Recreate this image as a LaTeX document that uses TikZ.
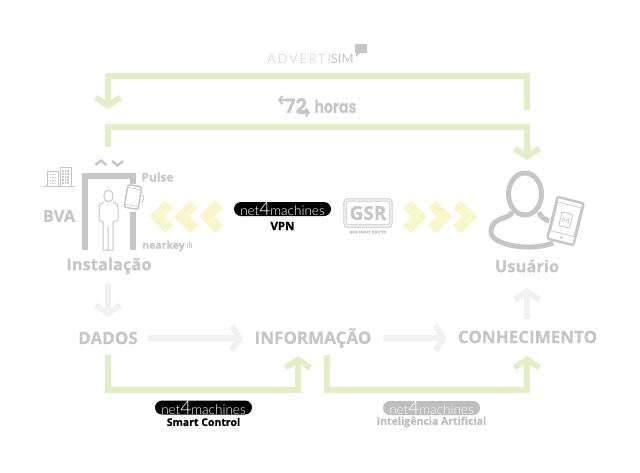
\documentclass[tikz,border=0pt]{standalone}
\usepackage{fontspec}
\setmainfont[BoldFeatures={FakeBold=0.5}]{Open Sans}
\newfontfamily\thinfont{Lato Light}
\newfontfamily\roundfont{Poppins}
\usetikzlibrary{arrows.meta}
\definecolor{softgreen}{HTML}{E4EEC6}
\definecolor{softyellow}{HTML}{F7F7CB}
\definecolor{softgray}{HTML}{F1F1F1}
\definecolor{midgray}{HTML}{C6C6C6}
\definecolor{pillgray}{HTML}{BDBDBD}
\tikzset{
	flow/.style={draw=softgreen,line width=6pt,miter limit=10,-{Straight Barb[length=8pt,width=25pt,line width=6pt]}},
	step arrow/.style={draw=softgray,line width=6pt,-{Straight Barb[length=8pt,width=25pt,line width=6pt]}},
	stage/.style={text=midgray,font=\fontsize{17}{17}\selectfont\bfseries,inner sep=0pt},
	place/.style={text=midgray,font=\fontsize{16.5}{16.5}\selectfont\bfseries,inner sep=0pt},
	small tag/.style={text=midgray,font=\fontsize{12}{12}\selectfont\bfseries,inner sep=0pt},
	pill/.style={rounded corners=7pt,minimum width=97pt,minimum height=14pt,inner sep=0pt,text=white,font=\thinfont\fontsize{13.5}{13.5}\selectfont},
	pill caption/.style={font=\fontsize{10.5}{10.5}\selectfont\bfseries,inner sep=0pt},
	icon/.style={draw=midgray,line width=1pt},
	chevron/.style={fill=softyellow},
	lift/.style={draw=midgray,line width=2.5pt}
}
\newcommand{\fourmachines}{net{\fontsize{19}{19}\selectfont 4}machines}
\begin{document}
\begin{tikzpicture}[x=1pt,y=-1pt]
	\useasboundingbox (0,0) rectangle (640,472);

	% arrows of the hours
	\draw[midgray,line width=2.2pt,-{Straight Barb[length=3pt,width=8pt,line width=2.2pt]}] (291,100) -- (278,100);
	\draw[midgray,line width=2.2pt,-{Straight Barb[length=3pt,width=8pt,line width=2.2pt]}] (298,112.5) -- (310,112.5);

	% labels
	\node (advertisim) at (310.5,59) [inner sep=0pt,text=midgray,font=\thinfont\fontsize{13}{13}\selectfont\addfontfeatures{LetterSpace=14}] {ADVERTI{\fontspec{Lato}SIM}};
	\node (seventytwo) at (296,106) [inner sep=0pt,text=midgray,font=\roundfont\bfseries\fontsize{20}{20}\selectfont] {72};
	\node (horas) at (335.5,106.5) [inner sep=0pt,text=midgray,font=\roundfont\bfseries\fontsize{18}{18}\selectfont] {\scalebox{.78}[1]{horas}};
	\node (bva) at (59,216) [place] {BVA};
	\node (pulse) at (157.5,177) [small tag] {Pulse};
	\node (nearkey) at (163.5,246) [small tag,font=\fontsize{10.5}{10.5}\selectfont\bfseries] {nearkey};
	\node (instalacao) at (109,266) [place] {Instalação};
	\node (usuario) at (527,266) [place] {Usuário};
	\node (dados) at (108,338) [stage] {DADOS};
	\node (informacao) at (313,338) [stage] {INFORMAÇÃO};
	\node (conhecimento) at (527.5,337) [stage] {CONHECIMENTO};

	% pills
	\node (vpn pill) at (282.5,209) [pill,fill=black] {\fourmachines};
	\node (vpn) at (282.5,226) [pill caption,font=\fontsize{11.5}{11.5}\selectfont\bfseries] {VPN};
	\node (control pill) at (203.5,407.5) [pill,fill=black] {\fourmachines};
	\node (control) at (203.5,422) [pill caption] {Smart Control};
	\node (ai pill) at (431.5,408) [pill,fill=pillgray] {\fourmachines};
	\node (ai) at (431.5,422) [pill caption,text=pillgray] {Inteligência Artificial};

	% router
	\node (gsr) at (368,213) [draw=midgray,line width=1pt,double=white,double distance=1.2pt,rounded corners=3pt,minimum width=46pt,minimum height=26pt,inner sep=0pt,text=midgray,font=\fontsize{19}{19}\selectfont\bfseries] {GSR};
	\node (gsr caption) at (368,232) [inner sep=0pt,text=midgray,font=\fontsize{3.6}{3.6}\selectfont\bfseries] {GSM SMART ROUTER};

	% green loops
	\coordinate (top start) at (527,110);
	\coordinate (top end) at (108,109);
	\coordinate (next start) at (108,147);
	\coordinate (next end) at (527,160);
	\coordinate (data out) at (108,355);
	\coordinate (control in) at (298,356);
	\coordinate (ai out) at (327,355);
	\coordinate (ai in) at (527,356);
	\draw[flow] (top start) -- (527,75.5) -- (108,75.5) -- (top end);
	\draw[flow] (next start) -- (108,126.5) -- (527,126.5) -- (next end);
	\draw[flow] (data out) -- (108,390) -- (298,390) -- (control in);
	\draw[flow] (ai out) -- (327,390) -- (527,390) -- (ai in);

	% grey steps
	\coordinate (down start) at (108,283);
	\coordinate (down end) at (108,317);
	\coordinate (up start) at (527,319);
	\coordinate (up end) at (527,288);
	\coordinate (first start) at (148,338);
	\coordinate (first end) at (243,338);
	\coordinate (second start) at (383,338);
	\coordinate (second end) at (447,338);
	\draw[step arrow] (down start) -- (down end);
	\draw[step arrow] (up start) -- (up end);
	\draw[step arrow] (first start) -- (first end);
	\draw[step arrow] (second start) -- (second end);

	% chevrons
	\foreach \t in {149,174,199}
		\fill[chevron] (\t,216.5) -- (\t+16,200) -- (\t+24,208) -- (\t+15,216.5) -- (\t+24,225) -- (\t+16,233) -- cycle;
	\foreach \t in {427,452,477}
		\fill[chevron] (\t,216.5) -- (\t-16,200) -- (\t-24,208) -- (\t-15,216.5) -- (\t-24,225) -- (\t-16,233) -- cycle;

	% speech bubble
	\fill[midgray] (355,44) -- (367,44) -- (367,53) -- (360,53) -- (356,57) -- (356.5,53) -- (355,53) -- cycle;

	% buildings
	\draw[icon] (43,186) -- (75,186);
	\draw[icon] (47.5,186) -- (47.5,171) -- (58,171) -- (58,186);
	\draw[icon] (60,186) -- (60,167.5) -- (71,167.5) -- (71,186);
	\foreach \x in {49.5,52,54.5}
		\foreach \y in {173.5,176.5,179.5,182.5}
			\fill[midgray] (\x,\y) rectangle +(1.6,1.8);
	\foreach \x in {62,64.5,67}
		\foreach \y in {170,173,176,179,182}
			\fill[midgray] (\x,\y) rectangle +(1.6,1.8);

	% lift
	\draw[lift] (95.5,165) -- (101,160.5) -- (106.5,165);
	\draw[lift] (112,161) -- (117.5,165.5) -- (123,161);
	\draw[midgray,line width=6pt] (85,250) -- (85,176) -- (132.5,176) -- (132.5,184);
	\draw[midgray,line width=6pt] (132.5,212) -- (132.5,250);

	% person in the lift
	\draw[icon] (108.5,196) ellipse (4.5 and 6);
	\draw[icon] (104,202.5) .. controls (100,203) and (99,205) .. (99,208) -- (99,220) -- (103,222) -- (103,250) -- (108,250) -- (108,226) -- (108,250) -- (113,250) -- (113,222) -- (118,220) -- (118,208) .. controls (118,205) and (117,203) .. (113,202.5);

	% phone of the lift
	\begin{scope}[shift={(133,197)},rotate=-10]
		\draw[icon,fill=white,line width=1.5pt,rounded corners=1.5pt] (-7,-11.5) rectangle (7,11.5);
		\draw[icon,line width=.6pt] (-7,-8.5) -- (7,-8.5) (-7,8.5) -- (7,8.5);
		\draw[icon] (9,-4) .. controls (11,-2) and (11,2) .. (9,4);
	\end{scope}

	% nearkey waves
	\draw[midgray,line width=.6pt] (187,244) -- (187,248) (189,241.5) -- (189,248) (191,243) -- (191,248);

	% user
	\draw[midgray,line width=5pt] (525,194) ellipse (16.5 and 21);
	\draw[midgray,line width=5pt] (512,212) .. controls (510,220) and (491,216) .. (491,232) .. controls (491,245) and (530,252) .. (553,243);
	\draw[midgray,line width=5pt] (539,212) .. controls (540,216) and (544,219) .. (549,221);

	% phone of the user
	\begin{scope}[shift={(565.5,221)},rotate=-14]
		\draw[midgray,fill=white,line width=2.4pt,rounded corners=2pt] (-13.5,-21.5) rectangle (13.5,21.5);
		\draw[midgray,line width=.7pt] (-12,-16.5) rectangle (12,13);
		\fill[midgray] (0,17) circle (1.4);
		\draw[midgray,line width=.8pt,rounded corners=1pt] (-5.5,-8) rectangle (5.5,6);
		\draw[midgray,line width=.7pt] (-3,-3) -- (-3,2) (-3,-3) -- (0,0) -- (3,-3) -- (3,2);
	\end{scope}
\end{tikzpicture}
\end{document}
